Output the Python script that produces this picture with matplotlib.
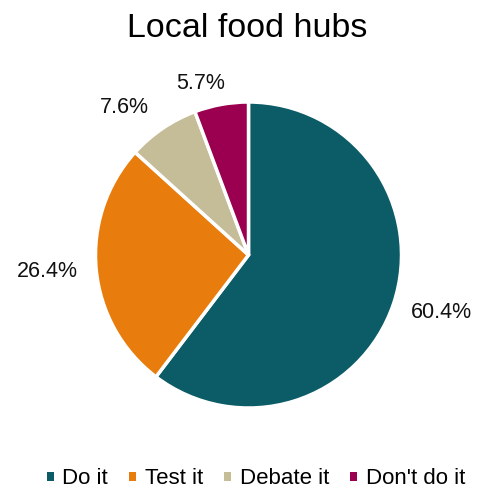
import matplotlib.pyplot as plt
from matplotlib.patches import Patch

plt.rcParams['font.family'] = ['Liberation Sans', 'DejaVu Sans']

categories = ["Do it", "Test it", "Debate it", "Don't do it"]
shares = [60.4, 26.4, 7.6, 5.7]
colors = ["#0b5c66", "#e87d0d", "#c5bc98", "#9b0050"]
# label centres in pie units (radius = 1)
label_xy = [(1.258, -0.373), (-1.314, -0.111), (-0.810, 0.967), (-0.310, 1.124)]

fig = plt.figure(figsize=(4.82, 4.91), dpi=100)
# axes sized so pie radius ~153px, centred at (248.5, 255)
r = 153
cx, cy = 248.5, 255
W, H = 482, 491
ax = fig.add_axes([(cx - r) / W, 1 - (cy + r) / H, 2 * r / W, 2 * r / H])

wedges, texts = ax.pie(shares, colors=colors, startangle=90, counterclock=False,
                       labels=[f"{v}%" for v in shares],
                       wedgeprops=dict(edgecolor="white", linewidth=2.5),
                       textprops=dict(fontsize=15.5, color="#111111"))
for t, xy in zip(texts, label_xy):
    t.set_position(xy)
    t.set_horizontalalignment("center")
    t.set_verticalalignment("center")
ax.set_xlim(-1, 1)
ax.set_ylim(-1, 1)
ax.set_aspect("equal")

fig.text(247.5 / W, 1 - 37 / H, "Local food hubs", ha="center", va="baseline", fontsize=24.5)

handles = [Patch(facecolor=c, edgecolor="none") for c in colors]
fig.legend(handles, categories, loc="center", bbox_to_anchor=(256 / W, 1 - 479 / H),
           ncol=4, frameon=False, fontsize=16, handlelength=0.3, handleheight=0.3,
           handletextpad=0.4, columnspacing=0.95, borderpad=0, borderaxespad=0)

fig.savefig("out.png", dpi=100)
